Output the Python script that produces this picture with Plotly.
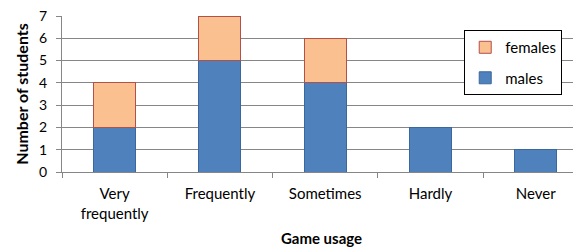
import plotly.graph_objects as go

categories = ["Very<br>frequently", "Frequently", "Sometimes", "Hardly", "Never"]
males = [2, 5, 4, 2, 1]
females = [2, 2, 2, None, None]
y_ticks = [0, 1, 2, 3, 4, 5, 6, 7]

FONT = "Lato"
fig = go.Figure()
fig.add_trace(go.Bar(
    x=categories, y=males, name="males", width=0.4,
    marker=dict(color="#4F81BD", line=dict(color="#3A679C", width=1)),
    legendgroup="m", legendrank=2,
))
fig.add_trace(go.Bar(
    x=categories, y=females, name="females", width=0.4,
    marker=dict(color="#FAC090", line=dict(color="#B3504A", width=1)),
    legendgroup="f", legendrank=1,
))

fig.update_layout(
    width=573, height=242,
    barmode="stack",
    plot_bgcolor="white", paper_bgcolor="white",
    margin=dict(l=54, r=0, t=8, b=78),
    font=dict(family=FONT, size=15, color="#000000"),
    showlegend=True,
    legend=dict(
        x=0.775, y=0.91, xanchor="left", yanchor="top",
        bgcolor="white", bordercolor="#000000", borderwidth=1,
        traceorder="grouped", tracegroupgap=8,
        font=dict(family=FONT, size=15),
        itemwidth=30,
    ),
    xaxis=dict(
        range=[-0.5, 4.43], automargin=False,
        showline=True, linecolor="#868686", linewidth=1,
        ticks="outside", tickson="boundaries", ticklen=5, tickcolor="#868686",
        showgrid=False, ticklabelstandoff=8,
        tickfont=dict(family=FONT, size=15),
        title=dict(text="<b>Game usage</b>", font=dict(family=FONT, size=15), standoff=12),
    ),
    yaxis=dict(
        range=[0, 7], tickvals=y_ticks, automargin=False,
        showline=True, linecolor="#868686", linewidth=1,
        ticks="outside", ticklen=5, tickcolor="#868686",
        showgrid=True, gridcolor="#868686", gridwidth=1,
        ticklabeloverflow="allow", ticklabelstandoff=6,
        tickfont=dict(family=FONT, size=14),
        title=dict(text="<b>Number of students</b>", font=dict(family=FONT, size=16), standoff=6),
    ),
)

fig.write_html("out.html")
